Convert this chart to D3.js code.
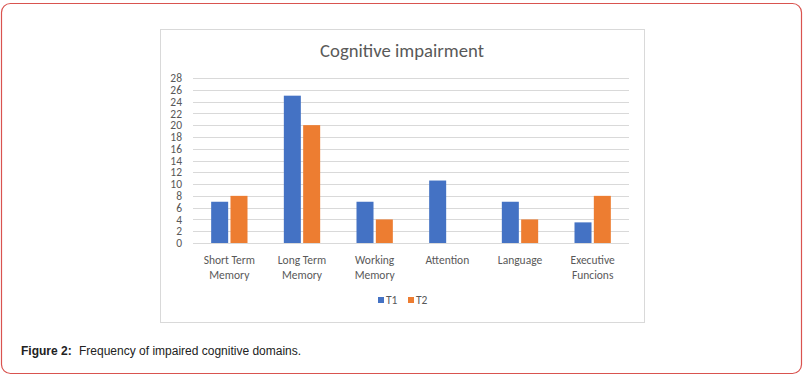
<!DOCTYPE html>
<html><head><meta charset="utf-8">
<script src="https://cdn.jsdelivr.net/npm/d3@7"></script>
<style>
html,body{margin:0;padding:0;background:#fff;}
svg{display:block;}
</style></head>
<body>
<svg id="c" width="807" height="382"></svg>
<script>
const categories = [["Short Term","Memory"],["Long Term","Memory"],["Working","Memory"],["Attention"],["Language"],["Executive","Funcions"]];
const seriesNames = ["T1","T2"];
const t1 = [7, 25, 7, 10.6, 7, 3.5];
const t2 = [8, 20, 4, 0, 4, 8];
const yTicks = d3.range(0, 29, 2);
const colors = ["#4472C4","#ED7D31"];

const svg = d3.select("#c");
svg.append("rect").attr("x",1.5).attr("y",3.5).attr("width",800).attr("height",370)
  .attr("rx",9).attr("fill","#fff").attr("stroke","#d9534f").attr("stroke-width",1.2);
svg.append("rect").attr("x",160.5).attr("y",29.5).attr("width",484).attr("height",293)
  .attr("fill","#fff").attr("stroke","#d9d9d9").attr("stroke-width",1);

const font = "Carlito, 'Open Sans', sans-serif";
svg.append("text").attr("x",402).attr("y",57).attr("text-anchor","middle")
  .attr("font-family",font).attr("font-size",18.7).attr("fill","#595959").text("Cognitive impairment");

const x0 = d3.scaleBand().domain(d3.range(categories.length)).range([193,629]).paddingInner(0.5).paddingOuter(0.25);
const x1 = d3.scaleBand().domain(seriesNames).range([0, x0.bandwidth()]).paddingInner(0.12);
const y = d3.scaleLinear().domain([0,28]).range([243,78]);

const g = svg.append("g");
g.selectAll("line.grid").data(yTicks).enter().append("line")
  .attr("x1",193).attr("x2",629).attr("y1",d=>Math.round(y(d))+0.5).attr("y2",d=>Math.round(y(d))+0.5)
  .attr("stroke","#d9d9d9").attr("stroke-width",1);

const yAxis = d3.axisLeft(y).tickValues(yTicks).tickSize(0).tickPadding(0);
const ya = svg.append("g").attr("transform","translate(182,0)").call(yAxis);
ya.select(".domain").remove();
ya.selectAll("text").attr("font-family",font).attr("font-size",11.5).attr("fill","#595959");

const data = [t1,t2];
data.forEach((vals,si)=>{
  svg.append("g").selectAll("rect").data(vals).enter().append("rect")
    .attr("x",(d,i)=>x0(i)+x1(seriesNames[si]))
    .attr("width",x1.bandwidth())
    .attr("y",d=>y(d)).attr("height",d=>y(0)-y(d))
    .attr("fill",colors[si]);
});

const xl = svg.append("g");
categories.forEach((lines,i)=>{
  const cx = x0(i)+x0.bandwidth()/2;
  const t = xl.append("text").attr("x",cx).attr("y",264).attr("text-anchor","middle")
    .attr("font-family",font).attr("font-size",11.5).attr("fill","#595959");
  lines.forEach((l,j)=>t.append("tspan").attr("x",cx).attr("dy",j===0?0:15).text(l));
});

const leg = svg.append("g").attr("transform","translate(378,297)");
seriesNames.forEach((s,i)=>{
  const gx = i*30;
  leg.append("rect").attr("x",gx).attr("y",0).attr("width",6).attr("height",6).attr("fill",colors[i]);
  leg.append("text").attr("x",gx+8).attr("y",7).attr("font-family",font).attr("font-size",11.5)
    .attr("fill","#595959").text(s);
});

const cap = svg.append("text").attr("x",21).attr("y",355).attr("font-family","'Liberation Sans', Arial, sans-serif")
  .attr("font-size",12).attr("fill","#222");
cap.append("tspan").attr("font-weight","bold").text("Figure 2:");
cap.append("tspan").attr("dx",4).text(" Frequency of impaired cognitive domains.");
</script>
</body></html>
